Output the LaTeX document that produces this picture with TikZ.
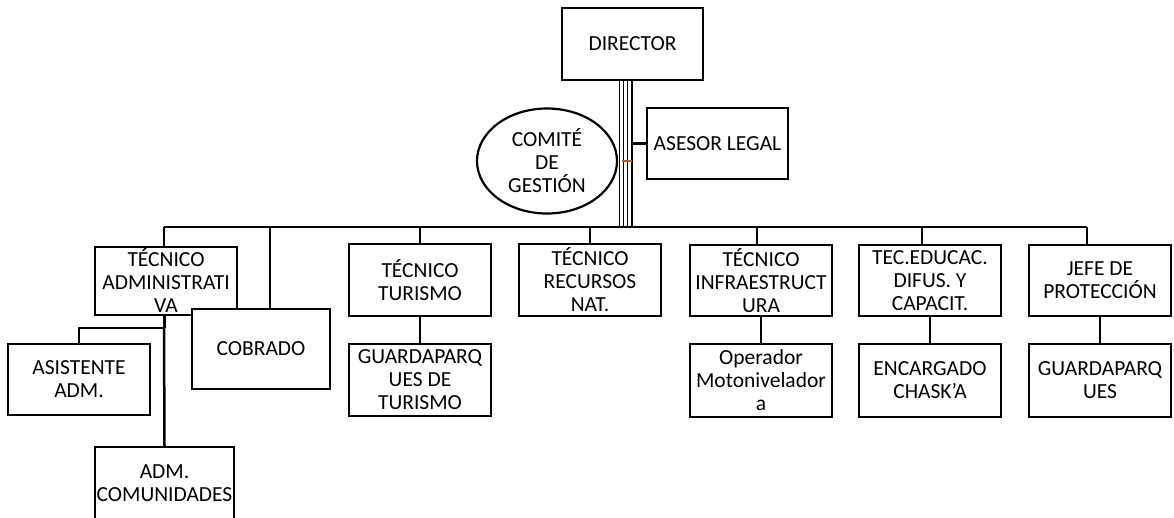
\documentclass[tikz,border=0pt]{standalone}
\usepackage{fontspec}
\setmainfont{Carlito}
\usetikzlibrary{shapes.geometric}
\definecolor{orng}{HTML}{C55A11}
\begin{document}
\begin{tikzpicture}[x=1pt,y=-1pt,
 txt/.style={font=\fontsize{21.5}{23}\selectfont},
 box/.style={txt, draw, fill=white, line width=2.4pt, minimum width=142pt, minimum height=72pt, inner sep=0pt, align=center},
 oval/.style={txt, ellipse, draw, fill=white, line width=2.2pt, minimum width=140pt, minimum height=105pt, inner sep=0pt, align=center},
 conn/.style={line width=2.5pt},
 fine/.style={line width=1.4pt}]
\useasboundingbox (0,0) rectangle (1174,517);
\begin{scope}
\clip (0,0) rectangle (1174,517);
% nodes
\node[box, minimum width=141pt] (dir) at (632.5,44) {DIRECTOR};
\node[box, minimum width=141pt, minimum height=71pt] (ase) at (717.5,143.5) {ASESOR LEGAL};
\node[oval] (com) at (547,161) {COMITÉ\\DE\\GESTIÓN};
\node[box, minimum height=68pt] (tadm) at (166,281) {TÉCNICO\\ADMINISTRATI\\VA};
\node[box, minimum width=138pt, minimum height=80pt] (cob) at (261,349) {COBRADO};
\node[box, minimum height=71pt] (asis) at (79,379.5) {ASISTENTE\\ADM.};
\node[box, minimum width=139pt, minimum height=73pt] (admc) at (164.5,483.5) {ADM.\\COMUNIDADES};
\node[box] (tt) at (420,280) {TÉCNICO\\TURISMO};
\node[box] (gt) at (420,380) {GUARDAPARQ\\UES DE\\TURISMO};
\node[box] (trn) at (590,280) {TÉCNICO\\RECURSOS\\NAT.};
\node[box, minimum height=71pt] (ti) at (761,280.5) {TÉCNICO\\INFRAESTRUCT\\URA};
\node[box, minimum height=73pt] (op) at (761,380.5) {Operador\\Motonivelador\\a};
\node[box, minimum height=71pt] (te) at (930,280.5) {TEC.EDUCAC.\\DIFUS. Y\\CAPACIT.};
\node[box, minimum height=73pt] (en) at (930,380.5) {ENCARGADO\\CHASK’A};
\node[box, minimum height=71pt] (jp) at (1100,280.5) {JEFE DE\\PROTECCIÓN};
\node[box, minimum height=73pt] (gu) at (1100,380.5) {GUARDAPARQ\\UES};
% bus
\coordinate (busL) at (164,227);
\coordinate (busR) at (1087,227);
\draw[conn] (busL) -- (busR);
% director to bus: parallel lines
\draw[fine] ([xshift=-13pt]dir.south) -- ([xshift=-13pt]dir.south |- busL);
\draw[fine] ([xshift=-9pt]dir.south) -- ([xshift=-9pt]dir.south |- busL);
\draw[fine] ([xshift=-5pt]dir.south) -- ([xshift=-5pt]dir.south |- busL);
\draw[conn] ([xshift=-0.5pt]dir.south) -- ([xshift=-0.5pt]dir.south |- busL);
% asesor and comite
\draw[conn] (ase.west) -- (ase.west -| 632,0);
\draw[orng, line width=1.5pt] ([xshift=4pt]com.east) -- ++(10,0);
% bus stubs
\draw[conn] (busL) -- ([xshift=-2pt]tadm.north);
\draw[conn] ([xshift=9pt]cob.north) -- ([xshift=9pt]cob.north |- busL);
\draw[conn] (tt.north) -- (tt.north |- busL);
\draw[conn] (trn.north) -- (trn.north |- busL);
\draw[conn] ([xshift=-4pt]ti.north) -- ([xshift=-4pt]ti.north |- busL);
\draw[conn] ([xshift=-8pt]te.north) -- ([xshift=-8pt]te.north |- busL);
\draw[conn] ([xshift=-13pt]jp.north) -- ([xshift=-13pt]jp.north |- busR);
% children
\draw[conn] (tt.south) -- (gt.north);
\draw[conn] (ti.south) -- (op.north);
\draw[conn] (te.south) -- (en.north);
\draw[conn] (jp.south) -- (gu.north);
% administrativa branch
\coordinate (ab) at (164,328);
\draw[line width=3.5pt] ([xshift=-1.5pt]tadm.south) -- ([xshift=-1.5pt]tadm.south |- ab);
\draw[conn] (ab) -| (asis.north);
\draw[conn] (ab) -- (admc.north);
\end{scope}
\end{tikzpicture}
\end{document}
